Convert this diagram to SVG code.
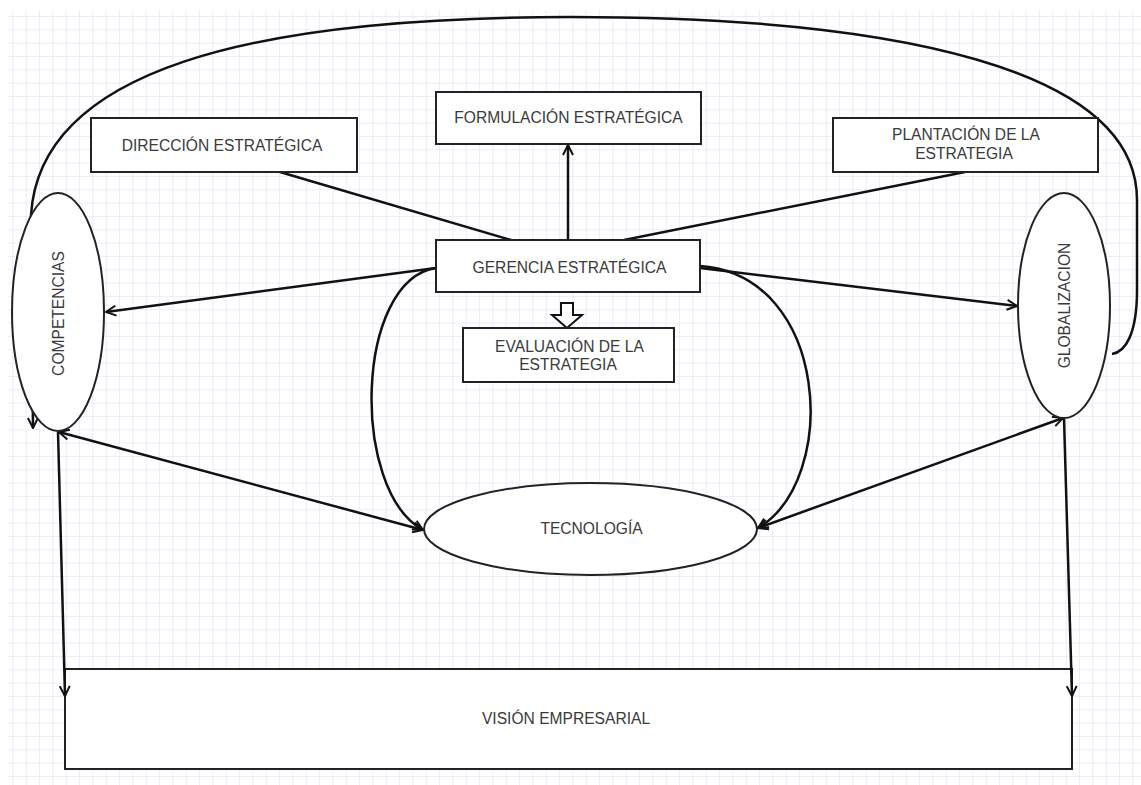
<svg xmlns="http://www.w3.org/2000/svg" width="1141" height="785" viewBox="0 0 1141 785">
<defs>
<pattern id="grid" x="-1" y="2.67" width="13.333" height="13.333" patternUnits="userSpaceOnUse">
<path d="M0.5,0 V13.333 M0,0.5 H13.333" stroke="#ebebfb" stroke-width="1.1" fill="none"/>
</pattern>
<marker id="arr" viewBox="0 0 12 12" refX="11" refY="6" markerWidth="12" markerHeight="12" markerUnits="userSpaceOnUse" orient="auto-start-reverse">
<path d="M1,1 L11,6 L1,11" fill="none" stroke="#111" stroke-width="2"/>
</marker>
<style>
.box{fill:#fff;stroke:#222;stroke-width:2}
.ell{fill:#fff;stroke:#222;stroke-width:2}
.t{font-family:"Liberation Sans",Arial,sans-serif;font-size:15.6px;fill:#3a3a3a;text-anchor:middle}
.c{fill:none;stroke:#111;stroke-width:2.5}
</style>
</defs>
<rect width="1141" height="785" fill="#fff"/>
<rect x="8" y="10" width="1133" height="775" fill="url(#grid)"/>

<g id="vision">
<rect class="box" x="65" y="669" width="1007" height="100"/>
<text class="t" x="566" y="724">VISIÓN EMPRESARIAL</text>
</g>

<g id="connectors">
<path class="c" d="M1112,354 C1125,352 1137,335 1137,290 L1137,200 C1137,70 900,17 570,17 C250,17 40,70 31,215 L33,428" marker-end="url(#arr)"/>
<line class="c" x1="280" y1="172" x2="511" y2="240"/>
<line class="c" x1="568" y1="240" x2="568" y2="145" marker-end="url(#arr)"/>
<line class="c" x1="965" y1="172" x2="624" y2="240"/>
<line class="c" x1="436" y1="268" x2="106" y2="312" marker-end="url(#arr)"/>
<line class="c" x1="700" y1="268" x2="1017" y2="306" marker-end="url(#arr)"/>
<path class="c" d="M436,268 C355,280 350,490 423,530" marker-end="url(#arr)"/>
<path class="c" d="M700,266 C830,275 840,480 758,528" marker-end="url(#arr)"/>
<line class="c" x1="59" y1="432" x2="423" y2="530" marker-start="url(#arr)" marker-end="url(#arr)"/>
<line class="c" x1="1063" y1="418" x2="758" y2="528" marker-start="url(#arr)" marker-end="url(#arr)"/>
<line class="c" x1="58" y1="432" x2="65" y2="696" marker-end="url(#arr)"/>
<line class="c" x1="1064" y1="418" x2="1072" y2="696" marker-end="url(#arr)"/>
<path d="M561,303 H573 V315 H582 L567,328 L552,315 H561 Z" fill="#fff" stroke="#111" stroke-width="2" stroke-linejoin="miter"/>
</g>

<g id="direccion">
<rect class="box" x="91" y="118" width="266" height="54"/>
<text class="t" x="222" y="151">DIRECCIÓN ESTRATÉGICA</text>
</g>
<g id="formulacion">
<rect class="box" x="436" y="92" width="265" height="52"/>
<text class="t" x="568.5" y="123">FORMULACIÓN ESTRATÉGICA</text>
</g>
<g id="plantacion">
<rect class="box" x="833" y="118" width="265" height="54"/>
<text class="t" x="966" y="140">PLANTACIÓN DE LA</text>
<text class="t" x="964" y="159">ESTRATEGIA</text>
</g>
<g id="gerencia">
<rect class="box" x="436" y="240" width="264" height="52"/>
<text class="t" x="569.5" y="272.5">GERENCIA ESTRATÉGICA</text>
</g>
<g id="evaluacion">
<rect class="box" x="463" y="328" width="211" height="54"/>
<text class="t" x="569.5" y="351.5">EVALUACIÓN DE LA</text>
<text class="t" x="568" y="369.5">ESTRATEGIA</text>
</g>
<g id="competencias">
<ellipse class="ell" cx="58" cy="312" rx="46" ry="119"/>
<text class="t" transform="translate(64,313.5) rotate(-90)" x="0" y="0">COMPETENCIAS</text>
</g>
<g id="globalizacion">
<ellipse class="ell" cx="1064" cy="305.5" rx="46" ry="112.5"/>
<text class="t" transform="translate(1070,305.5) rotate(-90)" x="0" y="0">GLOBALIZACION</text>
</g>
<g id="tecnologia">
<ellipse class="ell" cx="590.5" cy="529" rx="166.5" ry="46"/>
<text class="t" x="591.5" y="534">TECNOLOGÍA</text>
</g>
</svg>
